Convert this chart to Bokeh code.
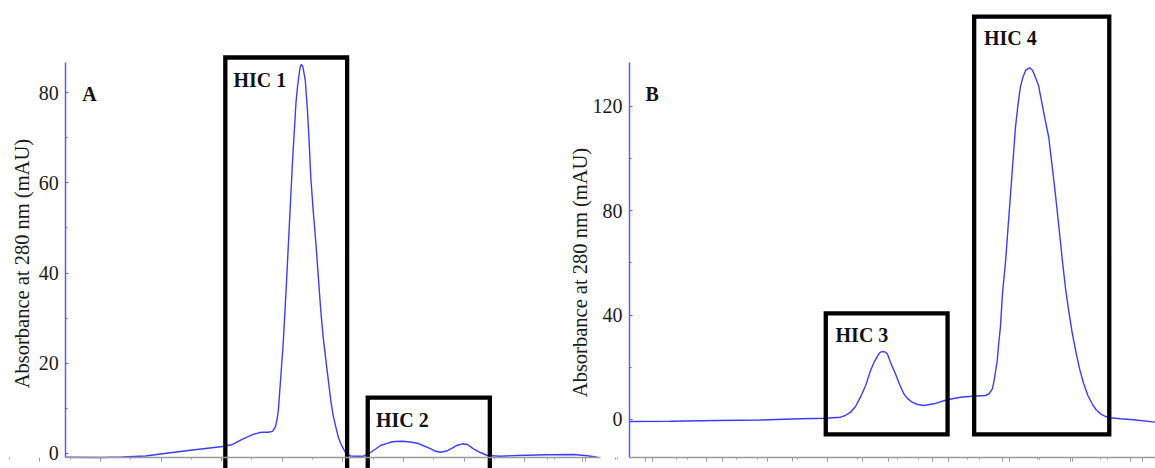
import math
from bokeh.plotting import figure
from bokeh.models import (Range1d, LinearAxis, FixedTicker, SingleIntervalTicker,
                          CustomJSTickFormatter, ColumnDataSource, Label)
from bokeh.core.properties import value
from bokeh.embed import file_html
from bokeh.resources import INLINE

# ---------------- data ----------------
# Panel A chromatogram: elution volume (arbitrary units) vs absorbance (mAU)
a_x = [-0.12, 1.00, 1.73, 2.49, 3.05, 3.97, 5.03, 5.36, 5.69, 6.02, 6.22, 6.35,
       6.54, 6.68, 6.78, 6.84, 6.87, 6.95, 7.03, 7.12, 7.23, 7.34, 7.45, 7.50,
       7.56, 7.59, 7.63, 7.68, 7.72, 7.76, 7.83, 7.89, 7.94, 8.02, 8.11, 8.19,
       8.27, 8.35, 8.44, 8.52, 8.60, 8.68, 8.77, 8.85, 8.93, 9.10, 9.25, 9.42,
       9.68, 9.91, 10.08, 10.24, 10.41, 10.60, 10.74, 10.97, 11.22, 11.46,
       11.68, 11.89, 12.04, 12.22, 12.42, 12.62, 12.78, 12.95, 13.11, 13.31,
       13.54, 13.77, 14.20, 14.76, 15.75, 16.61, 17.07, 17.40]
a_y = [-0.82, -0.89, -0.78, -0.55, -0.07, 0.71, 1.55, 2.0, 3.2, 4.2, 4.59, 4.72,
       4.7, 4.9, 6.0, 8.05, 9.53, 16.9, 24.4, 35.5, 50.2, 65.0, 77.6, 81.2,
       84.3, 85.7, 86.3, 85.7, 84.2, 82.7, 76.1, 68.7, 61.3, 53.9, 46.6, 39.1,
       31.7, 25.8, 20.6, 16.2, 11.8, 8.4, 5.8, 3.6, 2.2, 0.0, -0.55, -0.6,
       -0.6, 0.22, 1.0, 1.77, 2.15, 2.55, 2.66, 2.73, 2.55, 2.28,
       1.66, 1.10, 0.55, 0.29, 0.55, 1.26, 1.84, 2.15, 2.0, 1.04,
       0.22, -0.44, -0.6, -0.44, -0.29, -0.22, -0.51, -0.82]

# Panel B chromatogram
b_x = [0.34, 1.51, 2.86, 4.09, 5.23, 5.94, 6.37, 6.51, 6.66, 6.80, 6.94, 7.09,
       7.23, 7.34, 7.47, 7.52, 7.58, 7.64, 7.71, 7.80, 7.94, 8.06, 8.18, 8.29,
       8.42, 8.57, 8.75, 9.04, 9.42, 9.80, 10.13, 10.51, 10.61, 10.71, 10.76,
       10.85, 10.89, 10.94, 11.00, 11.09, 11.16, 11.23, 11.30, 11.37, 11.44,
       11.51, 11.58, 11.66, 11.71, 11.78, 11.86, 11.94, 12.03, 12.13, 12.21,
       12.32, 12.41, 12.51, 12.61, 12.71, 12.80, 12.89, 12.99, 13.09, 13.20,
       13.32, 13.44, 13.56, 13.67, 13.80, 13.94, 14.09, 14.37, 14.74, 15.37]
b_y = [-0.77, -0.69, -0.38, -0.19, 0.27, 0.5, 0.88, 1.53, 2.8, 4.98, 8.54, 13.0,
       18.8, 22.2, 25.2, 25.9, 26.0, 25.9, 25.2, 21.8, 17.5, 13.4, 9.84, 8.0,
       6.63, 5.74, 5.36, 6.01, 7.55, 8.54, 8.92, 9.19, 9.77, 11.76, 14.9,
       22.6, 29.0, 35.35, 48.3, 60.9, 73.9, 86.4, 99.2, 111.9, 120.3,
       127.3, 131.0, 133.7, 134.2, 134.7, 133.7, 131.1, 127.9, 120.9, 115.3,
       108.1, 98.0, 86.4, 73.9, 60.9, 50.2, 41.7, 33.3, 26.4, 19.5,
       13.7, 9.2, 6.01, 3.83, 2.18, 1.15, 0.65, 0.27, -0.11, -1.03]

# Collected fractions (boxes)
a_frac = ["HIC 1", "HIC 2"]
a_frac_left = [5.12, 9.82]
a_frac_right = [9.14, 13.85]
a_frac_top = [87.8, 12.37]
a_frac_bottom = [-6.0, -6.0]

b_frac = ["HIC 3", "HIC 4"]
b_frac_left = [5.95, 10.19]
b_frac_right = [9.43, 14.05]
b_frac_top = [40.67, 154.3]
b_frac_bottom = [-5.67, -5.67]

y_label = "Absorbance at 280 nm (mAU)"
panel_names = ["A", "B"]

# ---------------- figure ----------------
SERIF = "Liberation Serif"
CURVE = "#3c3cff"
AXIS_BLUE = "#5a5aff"
GREY = "#9a9a9a"
INK = "#1a1a1a"

p = figure(width=1155, height=468, output_backend="svg", toolbar_location=None,
           x_range=Range1d(-2.300, 35.82), y_range=Range1d(-3.326, 100.44),
           x_axis_location=None, y_axis_location=None,
           min_border=0, outline_line_color=None, background_fill_color="white")
p.extra_x_ranges = {"xb": Range1d(-17.629, 15.371)}
p.extra_y_ranges = {"yb": Range1d(-18.77, 160.48)}
p.grid.visible = False

blank = CustomJSTickFormatter(code="return ''")


def style_y(ax):
    ax.axis_line_color = AXIS_BLUE
    ax.axis_line_width = 1.5
    ax.major_tick_line_color = AXIS_BLUE
    ax.minor_tick_line_color = AXIS_BLUE
    ax.major_tick_in = 3
    ax.major_tick_out = 0
    ax.minor_tick_in = 2
    ax.minor_tick_out = 0
    ax.major_label_standoff = 7
    ax.major_label_text_font = SERIF
    ax.major_label_text_font_size = "20px"
    ax.major_label_text_color = INK


def style_x(ax):
    ax.axis_line_color = GREY
    ax.axis_line_width = 1.5
    ax.major_tick_line_color = GREY
    ax.minor_tick_line_color = GREY
    ax.major_tick_in = 0
    ax.major_tick_out = 4
    ax.minor_tick_in = 0
    ax.minor_tick_out = 2
    ax.formatter = blank


odd = [k for k in range(-1, 41) if k % 2]
even = [k for k in range(-2, 41) if not k % 2]

# Panel A axes
ax_a = LinearAxis(fixed_location=-0.89, bounds=(-0.15, 17.5),
                  ticker=FixedTicker(ticks=odd, minor_ticks=even))
style_x(ax_a)
p.add_layout(ax_a, "below")

ay_a = LinearAxis(fixed_location=-0.15, bounds=(-0.89, 86.7),
                  ticker=SingleIntervalTicker(interval=20, num_minor_ticks=2))
style_y(ay_a)
p.add_layout(ay_a, "left")

# Panel B axes
ax_b = LinearAxis(x_range_name="xb", y_range_name="yb", fixed_location=-14.55,
                  bounds=(0.34, 15.37), ticker=FixedTicker(ticks=odd, minor_ticks=even))
style_x(ax_b)
p.add_layout(ax_b, "below")

ay_b = LinearAxis(x_range_name="xb", y_range_name="yb", fixed_location=0.34,
                  bounds=(-14.55, 136.7),
                  ticker=SingleIntervalTicker(interval=40, num_minor_ticks=2))
style_y(ay_b)
p.add_layout(ay_b, "left")

# Y-axis titles
lab_kw = dict(text=y_label, angle=math.pi / 2, text_align="center", text_baseline="middle",
              text_font=SERIF, text_font_size="20.5px", text_color=INK)
p.add_layout(Label(x=-1.574, y=42.1, **lab_kw))
p.add_layout(Label(x=-1.086, y=56.3, x_range_name="xb", y_range_name="yb", **lab_kw))

# Curves
p.line(a_x, a_y, line_color=CURVE, line_width=1.4)
p.line(b_x, b_y, line_color=CURVE, line_width=1.4, x_range_name="xb", y_range_name="yb")

# Fraction boxes
src_a = ColumnDataSource(dict(l=a_frac_left, r=a_frac_right, t=a_frac_top, b=a_frac_bottom,
                              name=a_frac, lx=[v + 0.27 for v in a_frac_left],
                              ly=[v - 4.9 for v in a_frac_top]))
src_b = ColumnDataSource(dict(l=b_frac_left, r=b_frac_right, t=b_frac_top, b=b_frac_bottom,
                              name=b_frac, lx=[v + 0.28 for v in b_frac_left],
                              ly=[v - 8.2 for v in b_frac_top]))

p.quad(left="l", right="r", top="t", bottom="b", source=src_a, fill_color=None,
       line_color="black", line_width=4.3, line_join="miter")
p.quad(left="l", right="r", top="t", bottom="b", source=src_b, fill_color=None,
       line_color="black", line_width=4.3, line_join="miter",
       x_range_name="xb", y_range_name="yb")

txt_kw = dict(text_font=value(SERIF), text_font_style="bold", text_font_size="20px",
              text_color="#111111", text_baseline="alphabetic", text_align="left")
p.text(x="lx", y="ly", text="name", source=src_a, **txt_kw)
p.text(x="lx", y="ly", text="name", source=src_b, x_range_name="xb", y_range_name="yb",
       **txt_kw)

# Panel letters
p.text(x=[0.40], y=[79.6], text=[panel_names[0]], **txt_kw)
p.text(x=[0.80], y=[124.7], text=[panel_names[1]], x_range_name="xb", y_range_name="yb",
       **txt_kw)

open("out.html", "w").write(file_html(p, INLINE))
